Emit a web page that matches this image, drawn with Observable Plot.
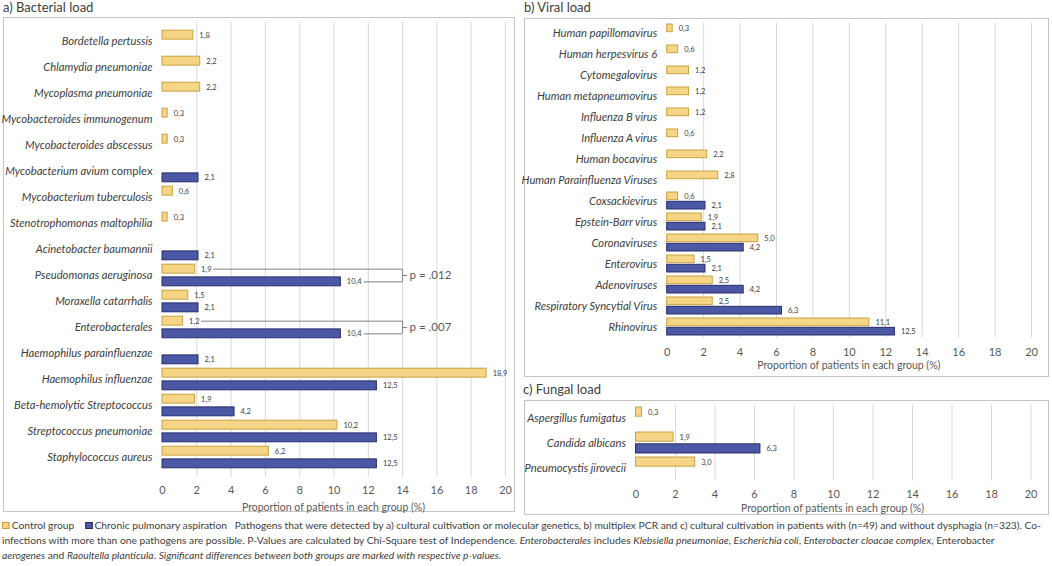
<!DOCTYPE html>
<html><head><meta charset="utf-8">
<script src="https://cdn.jsdelivr.net/npm/d3@7"></script>
<script src="https://cdn.jsdelivr.net/npm/@observablehq/plot@0.6"></script>
<style>
body{margin:0;background:#fff;font-family:Lato,"Open Sans",sans-serif;}
#root{position:relative;width:1052px;height:566px;overflow:hidden;background:#fff;}
.title{position:absolute;font-size:13px;color:#404040;white-space:nowrap;transform:translateY(-50%);}
.box{position:absolute;border:1px solid #c4c4c4;box-sizing:border-box;}
.chart{position:absolute;}
.xlabel{position:absolute;font-size:10.5px;color:#595959;transform:translate(-50%,-50%);white-space:nowrap;}
#caption{position:absolute;left:2px;top:518px;font-size:9.5px;line-height:15px;color:#404040;white-space:nowrap;transform-origin:0 0;}
#caption .line{display:block;}
.sq{display:inline-block;width:5px;height:5px;margin-right:2px;vertical-align:0px;}
</style></head>
<body><div id="root"></div>
<script>
// ---------- DATA ----------
const bactCategories = ["Bordetella pertussis","Chlamydia pneumoniae","Mycoplasma pneumoniae","Mycobacteroides immunogenum","Mycobacteroides abscessus","Mycobacterium avium complex","Mycobacterium tuberculosis","Stenotrophomonas maltophilia","Acinetobacter baumannii","Pseudomonas aeruginosa","Moraxella catarrhalis","Enterobacterales","Haemophilus parainfluenzae","Haemophilus influenzae","Beta-hemolytic Streptococcus","Streptococcus pneumoniae","Staphylococcus aureus"];
const bactControl = [1.8,2.2,2.2,0.3,0.3,null,0.6,0.3,null,1.9,1.5,1.2,null,18.9,1.9,10.2,6.2];
const bactCPA     = [null,null,null,null,null,2.1,null,null,2.1,10.4,2.1,10.4,2.1,12.5,4.2,12.5,12.5];

const viralCategories = ["Human papillomavirus","Human herpesvirus 6","Cytomegalovirus","Human metapneumovirus","Influenza B virus","Influenza A virus","Human bocavirus","Human Parainfluenza Viruses","Coxsackievirus","Epstein-Barr virus","Coronaviruses","Enterovirus","Adenoviruses","Respiratory Syncytial Virus","Rhinovirus"];
const viralControl = [0.3,0.6,1.2,1.2,1.2,0.6,2.2,2.8,0.6,1.9,5.0,1.5,2.5,2.5,11.1];
const viralCPA     = [null,null,null,null,null,null,null,null,2.1,2.1,4.2,2.1,4.2,6.3,12.5];

const fungalCategories = ["Aspergillus fumigatus","Candida albicans","Pneumocystis jirovecii"];
const fungalControl = [0.3,1.9,3.0];
const fungalCPA     = [null,6.3,null];

const pCategories = ["Pseudomonas aeruginosa","Enterobacterales"];
const pLabels = ["p = .012","p = .007"];
const bracketX = 14;

const xTicks = [0,2,4,6,8,10,12,14,16,18,20];
const groups = ["Control group","Chronic pulmonary aspiration"];
const axisTitle = "Proportion of patients in each group (%)";

// ---------- STYLE ----------
const YELLOW = "#F7D587", YELLOW_STROKE = "#C9A13F";
const BLUE = "#4B58A5", BLUE_STROKE = "#262C6A";
const fmt = v => d3.format(".1f")(v).replace(".", ",");

const root = document.getElementById("root");
function addDiv(cls, html, style) {
  const d = document.createElement("div");
  d.className = cls; d.innerHTML = html;
  Object.assign(d.style, style);
  root.appendChild(d);
  return d;
}

function panel(cfg) {
  const {cats, ctrl, cpa, box, x0, x20, bandTop, bandBottom, barH, gap, tickPad, labelY, annotations} = cfg;
  const n = cats.length;
  const bw = (bandBottom - bandTop) / n;
  const pxPerUnit = (x20 - x0) / 20;
  const width = box.right - box.left, height = box.bottom - box.top;
  addDiv("box", "", {left: box.left + "px", top: box.top + "px", width: width + "px", height: height + "px"});
  const ctrlRows = cats.map((c, i) => ({category: c, value: ctrl[i]})).filter(d => d.value != null);
  const cpaRows = cats.map((c, i) => ({category: c, value: cpa[i]})).filter(d => d.value != null);
  const off = gap / 2 + barH / 2;
  const marks = [
    Plot.gridX(xTicks.filter(t => t > 0), {stroke: "#d9d9d9", strokeOpacity: 1, strokeWidth: 1}),
    Plot.barX(ctrlRows, {x: "value", y: "category", fill: YELLOW, stroke: YELLOW_STROKE, strokeWidth: 1,
      insetTop: bw / 2 - gap / 2 - barH, insetBottom: bw / 2 + gap / 2}),
    Plot.barX(cpaRows, {x: "value", y: "category", fill: BLUE, stroke: BLUE_STROKE, strokeWidth: 1,
      insetTop: bw / 2 + gap / 2, insetBottom: bw / 2 - gap / 2 - barH}),
    Plot.text(ctrlRows, {x: "value", y: "category", text: d => fmt(d.value), dx: 6, dy: -off, textAnchor: "start", fontSize: 7.5, fill: "#404040"}),
    Plot.text(cpaRows, {x: "value", y: "category", text: d => fmt(d.value), dx: 6, dy: off, textAnchor: "start", fontSize: 7.5, fill: "#404040"}),
    Plot.axisY({tickSize: 0, tickPadding: 10, fontSize: 11.2, fontStyle: "italic", fill: "#404040", label: null}),
    Plot.axisX({ticks: xTicks, tickSize: 0, tickPadding: tickPad, fontSize: 11, fill: "#595959", label: null, tickFormat: d => String(d)})
  ];
  if (annotations) {
    const rows = annotations.map(a => ({category: a.category, p: a.p, bx: bracketX,
      ctrl: ctrl[cats.indexOf(a.category)], cpa: cpa[cats.indexOf(a.category)]}));
    const st = {stroke: "#808080", strokeWidth: 1};
    marks.push(
      Plot.link(rows, {y1: "category", y2: "category", x1: d => d.ctrl + 18 / pxPerUnit, x2: "bx", dy: -off, ...st}),
      Plot.link(rows, {y1: "category", y2: "category", x1: d => d.cpa + 23 / pxPerUnit, x2: "bx", dy: off, ...st}),
      Plot.tickX(rows, {x: "bx", y: "category", insetTop: bw / 2 - off, insetBottom: bw / 2 - off, ...st}),
      Plot.link(rows, {y1: "category", y2: "category", x1: "bx", x2: d => d.bx + 4.5 / pxPerUnit, ...st}),
      Plot.text(rows, {x: "bx", y: "category", text: "p", dx: 7, textAnchor: "start", fontSize: 11.5, fill: "#595959"})
    );
  }
  const svg = Plot.plot({
    width, height,
    marginLeft: x0 - box.left, marginRight: box.right - x20,
    marginTop: bandTop - box.top, marginBottom: box.bottom - bandBottom,
    x: {domain: [0, 20]},
    y: {domain: cats, padding: 0, axis: null},
    style: {fontFamily: "Lato, 'Open Sans', sans-serif", background: "transparent", overflow: "visible"},
    marks
  });
  svg.classList.add("chart");
  svg.style.left = box.left + "px";
  svg.style.top = box.top + "px";
  svg.style.position = "absolute";
  root.appendChild(svg);
  // mixed-style label
  d3.select(svg).selectAll("text").each(function() {
    if (this.textContent === "Mycobacterium avium complex") {
      const t = d3.select(this); t.text(null);
      t.append("tspan").attr("font-style", "italic").text("Mycobacterium avium ");
      t.append("tspan").attr("font-style", "normal").text("complex");
    }
  });
  addDiv("xlabel", axisTitle, {left: ((x0 + x20) / 2) + "px", top: labelY + "px"});
}

addDiv("title", "a) Bacterial load", {left: "3px", top: "7px"});
addDiv("title", "b) Viral load", {left: "524px", top: "7px"});
addDiv("title", "c) Fungal load", {left: "523px", top: "389px"});

panel({cats: bactCategories, ctrl: bactControl, cpa: bactCPA,
  box: {left: 3, top: 17, right: 515, bottom: 512}, x0: 162, x20: 505,
  bandTop: 21.6, bandBottom: 477.1, barH: 9.7, gap: 3, tickPad: 9, labelY: 507,
  annotations: pCategories.map((c, i) => ({category: c, p: pLabels[i]}))});

panel({cats: viralCategories, ctrl: viralControl, cpa: viralCPA,
  box: {left: 524, top: 17.5, right: 1049, bottom: 377}, x0: 666.7, x20: 1031,
  bandTop: 21.8, bandBottom: 337.2, barH: 7.7, gap: 1.6, tickPad: 9.6, labelY: 365});

panel({cats: fungalCategories, ctrl: fungalControl, cpa: fungalCPA,
  box: {left: 523.5, top: 399.5, right: 1049, bottom: 515}, x0: 635, x20: 1030,
  bandTop: 404, bandBottom: 480, barH: 9.5, gap: 2.3, tickPad: 8.8, labelY: 508.3});

// ---------- CAPTION ----------
const cap = addDiv("", "", {});
cap.id = "caption";
cap.innerHTML =
  `<span class="line" id="l1"><span class="sq" style="background:${YELLOW};border:1px solid ${YELLOW_STROKE}"></span>${groups[0]}&nbsp;&nbsp;&nbsp;&nbsp;<span class="sq" style="background:${BLUE};border:1px solid ${BLUE_STROKE}"></span>${groups[1]}&nbsp;&nbsp; Pathogens that were detected by a) cultural cultivation or molecular genetics, b) multiplex PCR and c) cultural cultivation in patients with (n=49) and without dysphagia (n=323). Co-</span>` +
  `<span class="line">infections with more than one pathogens are possible. P-Values are calculated by Chi-Square test of Independence. <i>Enterobacterales</i> includes <i>Klebsiella pneumoniae</i>, <i>Escherichia coli</i>, <i>Enterobacter cloacae complex</i>, Enterobacter</span>` +
  `<span class="line"><i>aerogenes</i> and <i>Raoultella planticula</i>. <i>Significant differences between both groups are marked with respective p-values.</i></span>`;
const l1 = document.getElementById("l1");
l1.style.display = "inline-block";
const w = l1.getBoundingClientRect().width;
l1.style.display = "block";
cap.style.transform = `scaleX(${1039 / w})`;
</script>
</body></html>
